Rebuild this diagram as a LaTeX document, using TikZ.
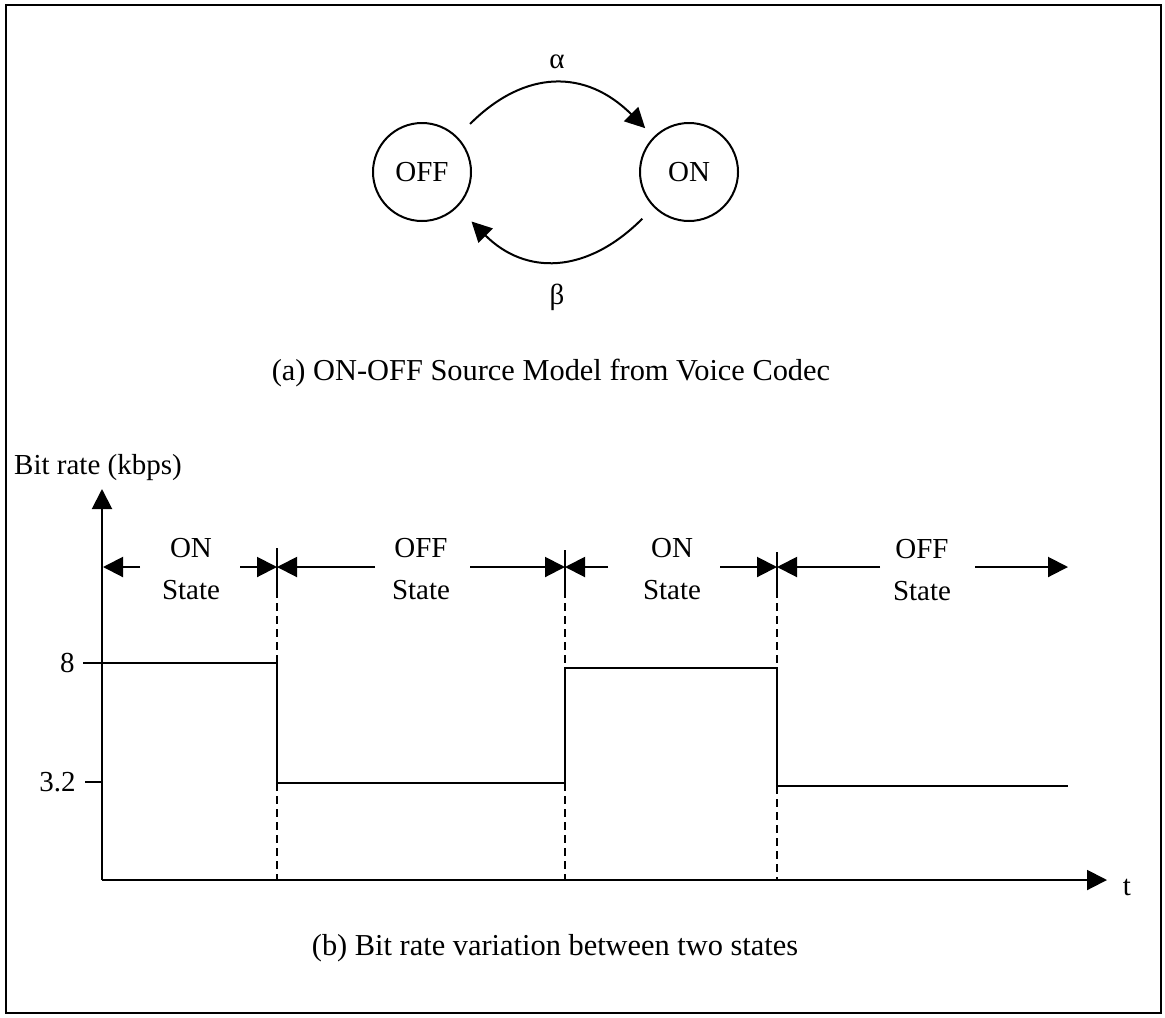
\documentclass[tikz,border=0pt]{standalone}
\usepackage{fontspec}
\setmainfont{Liberation Serif}
\usetikzlibrary{arrows.meta}
\begin{document}
\begin{tikzpicture}[x=0.5pt,y=-0.5pt,
  every node/.style={font=\fontsize{14.5}{21}\selectfont, inner sep=0pt},
  stnode/.style={circle, draw, line width=1pt, minimum size=49pt},
  tip/.style={-{Triangle[length=10pt,width=10pt]}},
  ln/.style={line width=1pt},
  dsh/.style={line width=0.8pt, dash pattern=on 4pt off 2.5pt},
  capt/.style={font=\fontsize{15.2}{18}\selectfont}]
\useasboundingbox (0,0) rectangle (1165,1017);
\draw[line width=1.2pt] (6,5) rectangle (1161,1013);

% (a) state model
\node[stnode] (off) at (422,172) {OFF};
\node[stnode] (on) at (689,172) {ON};
\draw[ln,tip,shorten <=9pt,shorten >=6pt] (off) to[out=45,in=135,looseness=1.25] (on);
\draw[ln,tip,shorten <=8pt,shorten >=10pt] (on) to[out=-135,in=-45,looseness=1.25] (off);
\node (alpha) at (557,62) {α};
\node (beta) at (557,297) {β};
\node[capt] (capa) at (551,373) {(a) ON-OFF Source Model from Voice Codec};

% (b) bit rate plot
\coordinate (O) at (102,880);
\coordinate (Ytip) at (102,489);
\coordinate (Xtip) at (1107,880);
\draw[ln,tip] (O) -- (Ytip);
\draw[ln,tip] (O) -- (Xtip);
\node (ylab) at (98,468) {Bit rate (kbps)};
\node (tlab) at (1127,887) {t};
\node[anchor=east] (l8) at (75,663) {8};
\node[anchor=east] (l32) at (76,782) {3.2};
\draw[ln] (85,782) -- (102,782);

% signal
\draw[ln] (83,663) -- (277,663) -- (277,783) -- (565,783) -- (565,668)
  -- (777,668) -- (777,786) -- (1068,786);

% separators
\foreach \x/\t/\hi/\lo in {277/548/663/783, 565/550/668/783, 777/552/668/786}{
  \draw[ln] (\x,\t) -- (\x,590);
  \draw[dsh] (\x,590) -- (\x,\hi);
  \draw[dsh] (\x,\lo) -- (\x,880);
}

% state duration labels
\node[align=center] (st1) at (191,569) {ON\\State};
\node[align=center] (st2) at (421,569) {OFF\\State};
\node[align=center] (st3) at (672,569) {ON\\State};
\node[align=center] (st4) at (922,570) {OFF\\State};

\coordinate (s0) at (103,567);
\coordinate (s1) at (277,567);
\coordinate (s2) at (565,567);
\coordinate (s3) at (777,567);
\coordinate (s4) at (1068,567);
\coordinate (a1l) at (140,567);
\coordinate (a1r) at (240,567);
\coordinate (a2l) at (375,567);
\coordinate (a2r) at (470,567);
\coordinate (a3l) at (608,567);
\coordinate (a3r) at (720,567);
\coordinate (a4l) at (880,567);
\coordinate (a4r) at (975,567);

\draw[ln,tip] (a1l) -- (s0);
\draw[ln,tip] (a1r) -- (s1);
\draw[ln,tip] (a2l) -- (s1);
\draw[ln,tip] (a2r) -- (s2);
\draw[ln,tip] (a3l) -- (s2);
\draw[ln,tip] (a3r) -- (s3);
\draw[ln,tip] (a4l) -- (s3);
\draw[ln,tip] (a4r) -- (s4);

\node[capt] (capb) at (555,948) {(b) Bit rate variation between two states};
\end{tikzpicture}
\end{document}
